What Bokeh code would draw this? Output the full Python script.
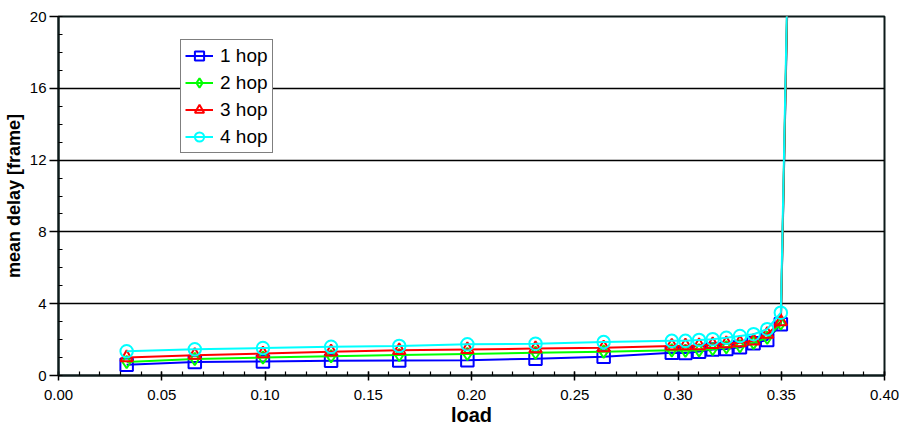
from bokeh.plotting import figure
from bokeh.models import FixedTicker, Range1d, Legend, LegendItem, NumeralTickFormatter
from bokeh.embed import file_html
from bokeh.resources import INLINE

# offered load and mean delay (in frames) per hop count
load = [0.033, 0.066, 0.099, 0.132, 0.165, 0.198, 0.231, 0.264, 0.297, 0.3036,
        0.3102, 0.3168, 0.3234, 0.33, 0.3366, 0.3432, 0.3498, 0.3564]
hop1 = [0.6, 0.75, 0.78, 0.82, 0.83, 0.85, 0.94, 1.05, 1.27, 1.25,
        1.33, 1.45, 1.47, 1.57, 1.8, 1.98, 2.85, 40.0]
hop2 = [0.75, 0.92, 1.0, 1.07, 1.14, 1.2, 1.27, 1.33, 1.4, 1.38,
        1.4, 1.48, 1.57, 1.63, 1.82, 2.1, 2.9, 40.5]
hop3 = [1.0, 1.13, 1.22, 1.32, 1.4, 1.45, 1.5, 1.55, 1.65, 1.66,
        1.67, 1.73, 1.78, 1.83, 1.93, 2.3, 3.0, 41.0]
hop4 = [1.35, 1.46, 1.53, 1.6, 1.65, 1.74, 1.77, 1.86, 1.93, 1.93,
        1.98, 2.02, 2.1, 2.2, 2.3, 2.58, 3.5, 41.5]

series_names = ["1 hop", "2 hop", "3 hop", "4 hop"]
series_values = [hop1, hop2, hop3, hop4]
colors = ["#0000FF", "#00FF00", "#FF0000", "#00FFFF"]
markers = ["square", "diamond", "triangle", "circle"]

x_ticks = [0.0, 0.05, 0.10, 0.15, 0.20, 0.25, 0.30, 0.35, 0.40]
x_minor = [i / 100 for i in range(41)]
y_ticks = [0, 4, 8, 12, 16, 20]
y_minor = list(range(21))

FONT = "Liberation Sans"

p = figure(width=899, height=428, output_backend="svg", toolbar_location=None,
           x_range=Range1d(0, 0.4), y_range=Range1d(0, 20),
           min_border_left=57, min_border_right=15, min_border_top=16,
           min_border_bottom=52)
p.background_fill_color = "white"
p.border_fill_color = "white"
p.outline_line_color = "#0d1a1a"
p.outline_line_width = 2

p.xgrid.visible = False
p.ygrid.ticker = FixedTicker(ticks=y_ticks)
p.ygrid.grid_line_color = "black"
p.ygrid.grid_line_width = 1.5

xa = p.xaxis[0]
xa.ticker = FixedTicker(ticks=x_ticks, minor_ticks=x_minor)
xa.formatter = NumeralTickFormatter(format="0.00")
xa.axis_label = "load"
ya = p.yaxis[0]
ya.ticker = FixedTicker(ticks=y_ticks, minor_ticks=y_minor)
ya.axis_label = "mean delay [frame]"

for ax in (xa, ya):
    ax.axis_line_color = "#0d1a1a"
    ax.axis_line_width = 2
    ax.major_tick_line_color = "black"
    ax.minor_tick_line_color = "black"
    ax.major_tick_line_width = 1.5
    ax.minor_tick_line_width = 1.2
    ax.major_label_text_font = FONT
    ax.major_label_text_font_size = "15px"
    ax.major_label_text_color = "black"
    ax.axis_label_text_font = FONT
    ax.axis_label_text_font_style = "bold"
    ax.axis_label_text_color = "black"
    ax.minor_tick_in = 4
    ax.minor_tick_out = 0

xa.axis_label_text_font_size = "20px"
ya.axis_label_text_font_size = "18px"
xa.major_tick_in = 4
xa.major_tick_out = 5
xa.major_label_standoff = 9
xa.axis_label_standoff = 1
ya.major_tick_in = 0
ya.major_tick_out = 9
ya.major_label_standoff = 3
ya.axis_label_standoff = 3

items = []
for name, vals, col, mk in zip(series_names, series_values, colors, markers):
    ln = p.line(load, vals, line_color=col, line_width=2)
    sc = p.scatter(load, vals, marker=mk, size=12.5, line_color=col,
                   line_width=2, fill_color=None)
    items.append(LegendItem(label=name, renderers=[ln, sc]))

legend = Legend(items=items, location=(122, 222))
legend.label_text_font = FONT
legend.label_text_font_size = "19px"
legend.label_text_color = "black"
legend.glyph_width = 28
legend.glyph_height = 23
legend.label_height = 23
legend.label_standoff = 7
legend.spacing = 4
legend.padding = 4
legend.margin = 0
legend.border_line_color = "black"
legend.border_line_width = 1.5
legend.background_fill_color = "white"
legend.background_fill_alpha = 1.0
p.add_layout(legend, "center")

open("out.html", "w").write(file_html(p, INLINE))
